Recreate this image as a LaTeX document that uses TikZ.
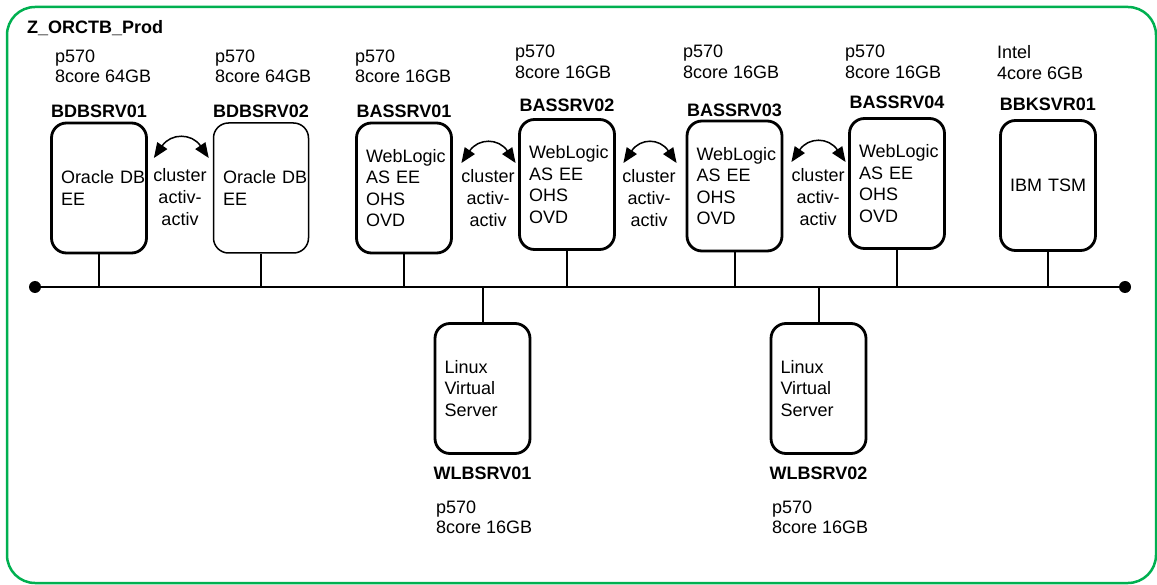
\documentclass[tikz,border=0pt]{standalone}
\usepackage{fontspec}
\setmainfont{Liberation Sans}
\usepackage{tikz}
\usetikzlibrary{arrows.meta,positioning,calc}
\definecolor{framegreen}{RGB}{0,176,80}

\begin{document}
\begin{tikzpicture}[x=1pt,y=-1pt,
    txt/.style={inner sep=0pt,font=\fontsize{18}{20.5}\selectfont},
    spec/.style={txt,align=left,anchor=north west},
    srvname/.style={inner sep=0pt,font=\fontsize{18}{20.5}\selectfont\bfseries},
    srv/.style={draw,rounded corners=15pt,line width=2.8pt,minimum width=95pt,minimum height=130pt,
        text width=76pt,inner xsep=9.5pt,inner ysep=0pt,align=left,font=\fontsize{18}{21.5}\selectfont},
    srvthin/.style={srv,line width=1.5pt},
    clus/.style={inner sep=0pt,align=center,font=\fontsize{18}{22}\selectfont},
    cluster/.style={line width=1.5pt,arrows={Triangle[length=15pt,width=12pt]-Triangle[length=15pt,width=12pt]}},
    drop/.style={line width=2pt},
    bus/.style={line width=2.7pt}]
    \useasboundingbox (0,0) rectangle (1157,585);
    \draw[framegreen,line width=2.5pt,rounded corners=28pt] (7,7) rectangle (1156,583);
    \node[srvname,anchor=north west] (title) at (27,20.5) {Z\_ORCTB\_Prod};

    % servers on the top row
    \node[srv] (bdb1) at (99,188) {Oracle~DB\\EE};
    \node[srvthin] (bdb2) at (261,188) {Oracle~DB\\EE};
    \node[srv] (bas1) at (404,188) {WebLogic\\AS EE\\OHS\\OVD};
    \node[srv] (bas2) at (567,184.5) {WebLogic\\AS EE\\OHS\\OVD};
    \node[srv] (bas3) at (734.5,186) {WebLogic\\AS EE\\OHS\\OVD};
    \node[srv] (bas4) at (897,183.5) {WebLogic\\AS EE\\OHS\\OVD};
    \node[srv,align=center] (bbk1) at (1048,185.5) {IBM TSM};

    \node[srvname,above=4pt of bdb1] (lbdb1) {BDBSRV01};
    \node[srvname,above=4pt of bdb2] (lbdb2) {BDBSRV02};
    \node[srvname,above=4pt of bas1] (lbas1) {BASSRV01};
    \node[srvname,above=6pt of bas2] (lbas2) {BASSRV02};
    \node[srvname,above=3pt of bas3] (lbas3) {BASSRV03};
    \node[srvname,above=8pt of bas4] (lbas4) {BASSRV04};
    \node[srvname,above=8pt of bbk1] (lbbk1) {BBKSVR01};

    \node[spec] (sbdb1) at (55,49.5) {p570\\8core 64GB};
    \node[spec] (sbdb2) at (215,49.5) {p570\\8core 64GB};
    \node[spec] (sbas1) at (355,49.5) {p570\\8core 16GB};
    \node[spec] (sbas2) at (515,45) {p570\\8core 16GB};
    \node[spec] (sbas3) at (683,45) {p570\\8core 16GB};
    \node[spec] (sbas4) at (845,45) {p570\\8core 16GB};
    \node[spec] (sbbk1) at (997,45.5) {Intel\\4core 6GB};

    % load balancers below the bus
    \node[srv] (wlb1) at (482.5,388.5) {Linux\\Virtual\\Server};
    \node[srv] (wlb2) at (818.5,388.5) {Linux\\Virtual\\Server};
    \node[srvname,below=12pt of wlb1] (lwlb1) {WLBSRV01};
    \node[srvname,below=12pt of wlb2] (lwlb2) {WLBSRV02};
    \node[spec] (swlb1) at (436,500.5) {p570\\8core 16GB};
    \node[spec] (swlb2) at (772,500.5) {p570\\8core 16GB};

    % bus
    \coordinate (busL) at (35,287);
    \coordinate (busR) at (1125,287);
    \draw[bus] (busL) -- (busR);
    \fill (busL) circle[radius=6pt];
    \fill (busR) circle[radius=6pt];
    \draw[drop] (bdb1.south) -- (bdb1.south |- busL);
    \draw[drop] (bdb2.south) -- (bdb2.south |- busL);
    \draw[drop] (bas1.south) -- (bas1.south |- busL);
    \draw[drop] (bas2.south) -- (bas2.south |- busL);
    \draw[drop] (bas3.south) -- (bas3.south |- busL);
    \draw[drop] (bas4.south) -- (bas4.south |- busL);
    \draw[drop] (bbk1.south) -- (bbk1.south |- busL);
    \draw[drop] (wlb1.north) -- (wlb1.north |- busL);
    \draw[drop] (wlb2.north) -- (wlb2.north |- busL);

    % cluster links
    \coordinate (rowA) at (0,158);
    \coordinate (rowB) at (0,163);
    \coordinate (rowC) at (0,162);
    \draw[cluster] ($(bdb1.east |- rowA)+(6,0)$) .. controls +(17,-25) and +(-17,-25) .. ($(bdb2.west |- rowA)+(-4,0)$);
    \draw[cluster] ($(bas1.east |- rowB)+(8.5,0)$) .. controls +(17,-25) and +(-17,-25) .. ($(bas2.west |- rowB)+(-2.5,0)$);
    \draw[cluster] ($(bas2.east |- rowB)+(7.5,0)$) .. controls +(17,-25) and +(-17,-25) .. ($(bas3.west |- rowB)+(-9,0)$);
    \draw[cluster] ($(bas3.east |- rowC)+(8,0)$) .. controls +(17,-25) and +(-17,-25) .. ($(bas4.west |- rowC)+(-2.5,0)$);
    \node[clus] (cl1) at (180,197) {cluster\\activ-\\activ};
    \node[clus] (cl2) at (488,198) {cluster\\activ-\\activ};
    \node[clus] (cl3) at (649,198) {cluster\\activ-\\activ};
    \node[clus] (cl4) at (818,197) {cluster\\activ-\\activ};
\end{tikzpicture}
\end{document}
